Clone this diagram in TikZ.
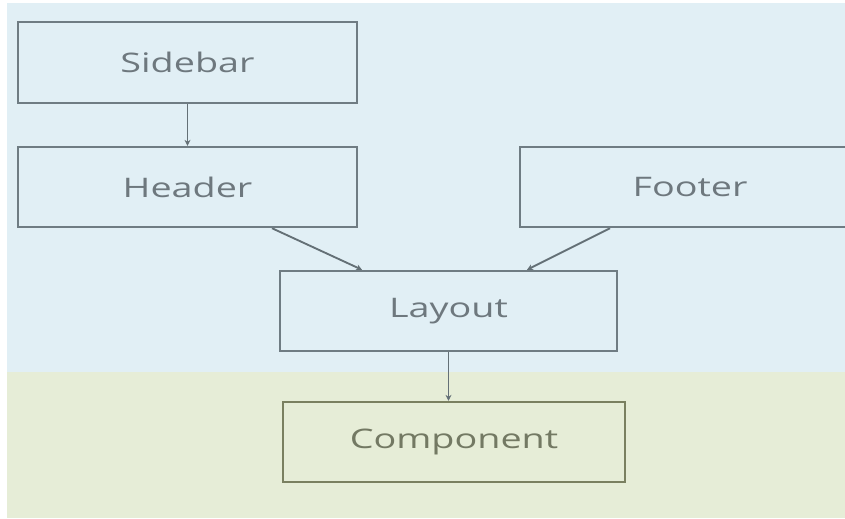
\documentclass[tikz,border=0pt]{standalone}
\usepackage{fontspec}
\setmainfont{Open Sans}
\usetikzlibrary{arrows.meta}
\pgfdeclarelayer{bg}
\pgfsetlayers{bg,main}
\definecolor{skyback}{HTML}{E1EFF5}
\definecolor{leafback}{HTML}{E6EDD7}
\definecolor{boxline}{HTML}{6F7C83}
\definecolor{boxtext}{HTML}{6E787E}
\definecolor{oliveline}{HTML}{7A8060}
\definecolor{olivetext}{HTML}{737963}
\tikzset{
  part/.style={draw=boxline, line width=2.1pt, fill=skyback, text=boxtext,
    minimum width=10.17cm, minimum height=2.4cm, inner sep=0pt,
    font=\fontsize{23}{27}\selectfont},
  leafpart/.style={part, draw=oliveline, fill=leafback, text=olivetext},
  link/.style={draw=boxline!90!black, line width=1.6pt, -{Stealth[length=5pt,width=5pt]}}
}
\newcommand{\wide}[1]{\scalebox{1.4}[1]{#1}}

\begin{document}
\begin{tikzpicture}
        \clip (0cm, 0cm) rectangle (25.350000cm, -15.570000cm);
        \node (v0) [part, minimum height=2.43cm] at (5.625000cm, -1.875000cm) {\wide{Sidebar}};
        \node (v1) [part] at (5.625000cm, -5.610000cm) {\wide{Header}};
        \node (v2) [part, minimum width=10.2cm] at (20.700000cm, -5.610000cm) {\wide{Footer}};
        \node (v3) [part, minimum width=10.11cm] at (13.455000cm, -9.330000cm) {\wide{Layout}};
        \node (v4) [leafpart, minimum width=10.26cm] at (13.620000cm, -13.260000cm) {\wide{Component}};
        \begin{pgfonlayer}{bg}
                \fill [white] (0cm, 0cm) rectangle (25.350000cm, -15.570000cm);
                \fill [skyback] (0.210000cm, -0.090000cm) rectangle (25.350000cm, -11.160000cm);
                \fill [leafback] (0.210000cm, -11.160000cm) rectangle (25.350000cm, -15.540000cm);
                \draw [link] (v0) -- (v1);
                \draw [link] ([xshift=2.535cm]v1.south) -- ([xshift=-2.595cm]v3.north);
                \draw [link] ([xshift=-2.4cm]v2.south) -- ([xshift=2.355cm]v3.north);
                \draw [link] (v3.south) -- (v3.south |- v4.north);
        \end{pgfonlayer}
\end{tikzpicture}
\end{document}
